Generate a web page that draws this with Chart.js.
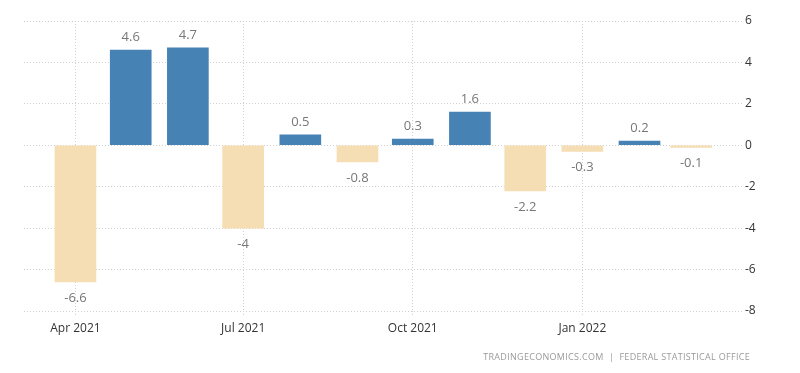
<!DOCTYPE html>
<html>
<head>
<meta charset="utf-8">
<script src="https://cdn.jsdelivr.net/npm/chart.js@4"></script>
<style>
  html, body { margin: 0; padding: 0; background: #fff; }
  #wrap { position: relative; width: 800px; height: 373px; }
  #c { display: block; }
  #src { position: absolute; right: 50px; top: 350px; font-family: "Open Sans", "DejaVu Sans", sans-serif; font-size: 9px; color: #9a9a9a; letter-spacing: 0.3px; }
</style>
</head>
<body>
<div id="wrap">
  <canvas id="c" width="800" height="373"></canvas>
  <div id="src">TRADINGECONOMICS.COM&nbsp; |&nbsp; FEDERAL STATISTICAL OFFICE</div>
</div>
<script>
const months = ['2021-04-01','2021-05-01','2021-06-01','2021-07-01','2021-08-01','2021-09-01','2021-10-01','2021-11-01','2021-12-01','2022-01-01','2022-02-01','2022-03-01'];
const values = [-6.6, 4.6, 4.7, -4, 0.5, -0.8, 0.3, 1.6, -2.2, -0.3, 0.2, -0.1];
const tickDates = ['2021-04-01','2021-07-01','2021-10-01','2022-01-01'];
const tickLabels = ['Apr 2021','Jul 2021','Oct 2021','Jan 2022'];
const yTicks = [6, 4, 2, 0, -2, -4, -6, -8];

const DAY = 86400000;
const base = Date.UTC(2021, 3, 1);
const toDay = s => Math.round((Date.parse(s + 'T00:00:00Z') - base) / DAY);

const points = months.map((m, i) => ({ x: toDay(m), y: values[i] }));
const tickDays = tickDates.map(toDay);

const valueLabels = {
  id: 'valueLabels',
  afterDatasetsDraw(chart) {
    const ctx = chart.ctx;
    const meta = chart.getDatasetMeta(0);
    ctx.save();
    ctx.font = '13px "Open Sans", "DejaVu Sans", sans-serif';
    ctx.fillStyle = '#777';
    ctx.textAlign = 'center';
    ctx.textBaseline = 'middle';
    meta.data.forEach((bar, i) => {
      const v = values[i];
      const y = v >= 0 ? bar.y - 13 : bar.y + 16;
      ctx.fillText(String(v), bar.x, y);
    });
    ctx.restore();
  }
};

new Chart(document.getElementById('c'), {
  type: 'bar',
  data: {
    datasets: [{
      data: points,
      backgroundColor: values.map(v => v >= 0 ? '#4682b4' : '#f5deb3'),
      borderWidth: 0,
      barThickness: 41
    }]
  },
  options: {
    responsive: false,
    animation: false,
    layout: { padding: { left: 24, top: 21, right: 0, bottom: 0 } },
    plugins: { legend: { display: false }, tooltip: { enabled: false } },
    scales: {
      x: {
        type: 'linear',
        min: -27.9,
        max: 361.6,
        offset: false,
        afterBuildTicks(axis) { axis.ticks = tickDays.map(v => ({ value: v })); },
        afterFit(axis) { axis.height = 62; },
        ticks: {
          autoSkip: false,
          maxRotation: 0,
          padding: 6,
          color: '#333',
          font: { family: '"Open Sans", "DejaVu Sans", sans-serif', size: 12 },
          callback: (v) => { const i = tickDays.indexOf(v); return i >= 0 ? tickLabels[i] : ''; }
        },
        grid: { offset: false, color: '#d0d0d0', lineWidth: 1, drawTicks: true, tickLength: 4, tickBorderDash: [1, 2] },
        border: { display: false, dash: [1, 2] }
      },
      y: {
        position: 'right',
        min: -8,
        max: 6,
        afterBuildTicks(axis) { axis.ticks = yTicks.map(v => ({ value: v })); },
        afterFit(axis) { axis.width = 58; },
        ticks: {
          padding: 3,
          color: '#333',
          font: { family: '"Open Sans", "DejaVu Sans", sans-serif', size: 12 }
        },
        grid: { color: '#d0d0d0', lineWidth: 1, drawTicks: false },
        border: { display: false, dash: [1, 2] }
      }
    }
  },
  plugins: [valueLabels]
});
</script>
</body>
</html>
